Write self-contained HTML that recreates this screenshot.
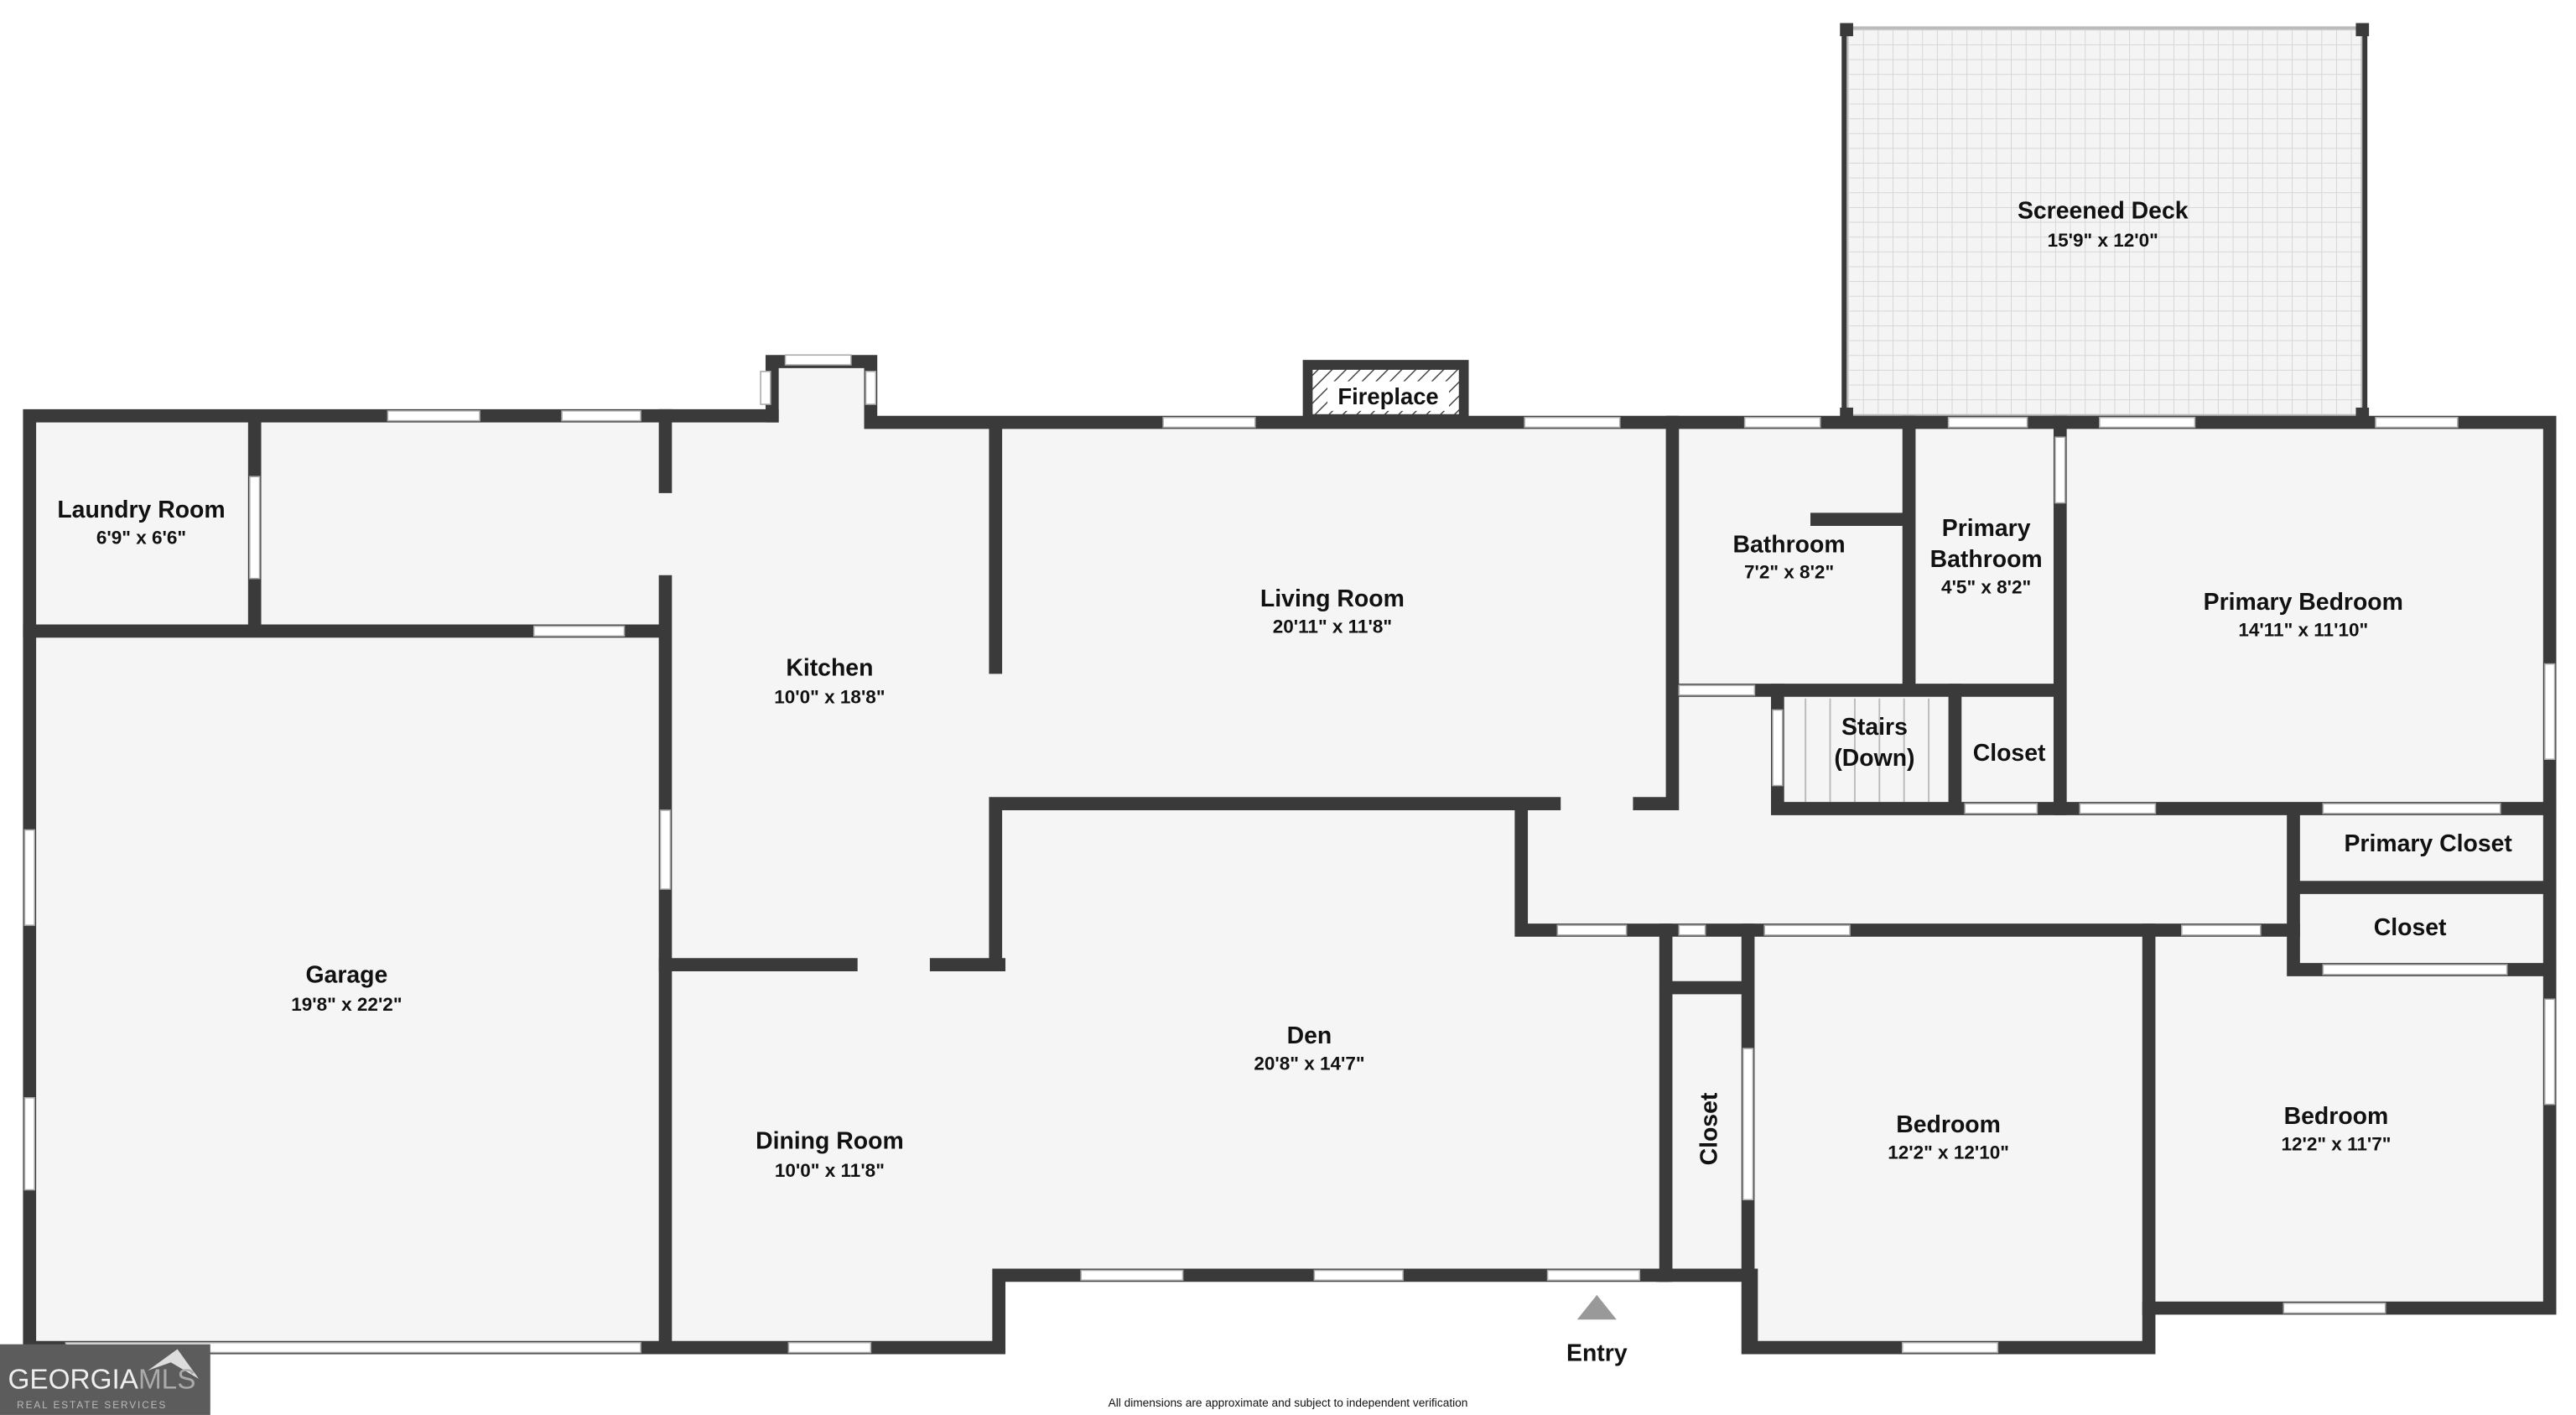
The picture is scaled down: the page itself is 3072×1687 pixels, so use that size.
<!DOCTYPE html>
<html><head><meta charset="utf-8"><style>
html,body{margin:0;padding:0;background:#fff;}
svg{display:block;}
text{font-family:"Liberation Sans",sans-serif;fill:#111;text-anchor:middle;}
.l{font-size:14.5px;font-weight:bold;}
.d{font-size:11.5px;font-weight:bold;}
</style></head><body>
<svg width="3072" height="1687" viewBox="0 0 1568 861" xmlns="http://www.w3.org/2000/svg">
<defs>
<pattern id="grid" width="9" height="9" patternUnits="userSpaceOnUse">
<rect width="9" height="9" fill="#f4f4f4"/>
<path d="M0 0H9M0 0V9" stroke="#d6d6d6" stroke-width="1"/>
</pattern>
<pattern id="hatch" width="6" height="6" patternUnits="userSpaceOnUse" patternTransform="rotate(45)">
<rect width="6" height="6" fill="#fff"/><line x1="0" y1="0" x2="0" y2="6" stroke="#444" stroke-width="1.5"/>
</pattern>
</defs>
<g fill="#f5f5f5">
<rect x="18" y="255" width="590" height="565"/>
<rect x="466" y="218" width="66" height="40"/>
<rect x="606" y="257" width="946" height="519"/>
<rect x="1064" y="566" width="244" height="254"/>
<rect x="1308" y="566" width="244" height="230"/>
</g>
<rect x="1124" y="17" width="314" height="236" fill="url(#grid)" stroke="#bbb" stroke-width="2"/>
<g fill="#3a3a3a">
<rect x="1120" y="14" width="8" height="8"/><rect x="1434" y="14" width="8" height="8"/>
<rect x="1120" y="248" width="8" height="8"/><rect x="1434" y="248" width="8" height="8"/>
<rect x="1121" y="20" width="3" height="232"/><rect x="1438" y="20" width="3" height="232"/>
</g>
<g stroke="#bbb" stroke-width="1">
<line x1="1099" y1="425" x2="1099" y2="488"/><line x1="1114" y1="425" x2="1114" y2="488"/>
<line x1="1129" y1="425" x2="1129" y2="488"/><line x1="1144" y1="425" x2="1144" y2="488"/>
<line x1="1159" y1="425" x2="1159" y2="488"/><line x1="1174" y1="425" x2="1174" y2="488"/>
</g>
<g stroke="#3a3a3a" stroke-width="8" stroke-linecap="square" fill="none">
<path d="M470 253H18V820H608V776H1012"/>
<path d="M470 253V220H530V257H1552V796H1308V820H1066V776H1012"/>
<path d="M155 257V382M18 384H404M405 253V296M405 354V820"/>
<path d="M405 587H518M570 587H608M606 260V406M606 587V489H946M926 489V566H1396"/>
<path d="M1018 257V489H998M1162 257V420M1018 420H1254M1106 316H1162M1254 257V492"/>
<path d="M1082 420V492H1552M1190 420V492M1396 492V590M1396 540H1552M1396 590H1552"/>
<path d="M1014 566V776M1064 566V820M1014 601H1064M1308 566V796"/>
</g>
<rect x="796" y="222" width="95" height="33" fill="url(#hatch)" stroke="#3a3a3a" stroke-width="6"/>
<rect x="808" y="232" width="74" height="18" fill="#fff"/>
<text class="l" x="845" y="246" style="font-size:14px">Fireplace</text>
<g fill="#fff" stroke="#aaa" stroke-width="0.8">
<rect x="236" y="250" width="56" height="6"/><rect x="342" y="250" width="48" height="6"/>
<rect x="478" y="216" width="40" height="6"/><rect x="463" y="226" width="6" height="20"/><rect x="527" y="226" width="6" height="20"/>
<rect x="708" y="254" width="56" height="6"/><rect x="928" y="254" width="58" height="6"/>
<rect x="1062" y="254" width="46" height="6"/><rect x="1186" y="254" width="48" height="6"/>
<rect x="1278" y="254" width="58" height="6"/><rect x="1446" y="254" width="50" height="6"/>
<rect x="152" y="290" width="6" height="62"/><rect x="325" y="381" width="55" height="6"/>
<rect x="402" y="493" width="6" height="48"/>
<rect x="15" y="505" width="6" height="58"/><rect x="15" y="668" width="6" height="56"/>
<rect x="40" y="817" width="350" height="6"/><rect x="480" y="817" width="50" height="6"/>
<rect x="658" y="773" width="62" height="6"/><rect x="800" y="773" width="54" height="6"/>
<rect x="942" y="773" width="56" height="6"/>
<rect x="1022" y="417" width="46" height="6"/><rect x="1079" y="432" width="6" height="46"/>
<rect x="1251" y="266" width="6" height="40"/>
<rect x="1196" y="489" width="44" height="6"/><rect x="1266" y="489" width="46" height="6"/>
<rect x="1414" y="489" width="108" height="6"/><rect x="1414" y="587" width="112" height="6"/>
<rect x="1549" y="404" width="6" height="58"/><rect x="1549" y="608" width="6" height="64"/>
<rect x="948" y="563" width="42" height="6"/><rect x="1022" y="563" width="16" height="6"/>
<rect x="1074" y="563" width="52" height="6"/><rect x="1328" y="563" width="48" height="6"/>
<rect x="1061" y="638" width="6" height="92"/>
<rect x="1390" y="793" width="62" height="6"/><rect x="1158" y="817" width="58" height="6"/>
</g>
<text class="l" x="86" y="315">Laundry Room</text><text class="d" x="86" y="331">6'9" x 6'6"</text>
<text class="l" x="505" y="411">Kitchen</text><text class="d" x="505" y="428">10'0" x 18'8"</text>
<text class="l" x="811" y="369">Living Room</text><text class="d" x="811" y="385">20'11" x 11'8"</text>
<text class="l" x="1280" y="133">Screened Deck</text><text class="d" x="1280" y="150">15'9" x 12'0"</text>
<text class="l" x="1089" y="336">Bathroom</text><text class="d" x="1089" y="352">7'2" x 8'2"</text>
<text class="l" x="1209" y="326">Primary</text><text class="l" x="1209" y="345">Bathroom</text><text class="d" x="1209" y="361">4'5" x 8'2"</text>
<text class="l" x="1402" y="371">Primary Bedroom</text><text class="d" x="1402" y="387">14'11" x 11'10"</text>
<text class="l" x="1141" y="447">Stairs</text><text class="l" x="1141" y="466">(Down)</text>
<text class="l" x="1223" y="463">Closet</text>
<text class="l" x="1478" y="518">Primary Closet</text>
<text class="l" x="1467" y="569">Closet</text>
<text class="l" x="211" y="598">Garage</text><text class="d" x="211" y="615">19'8" x 22'2"</text>
<text class="l" x="797" y="635">Den</text><text class="d" x="797" y="651">20'8" x 14'7"</text>
<text class="l" x="505" y="699">Dining Room</text><text class="d" x="505" y="716">10'0" x 11'8"</text>
<text class="l" x="1045" y="687" transform="rotate(-90 1045 687)">Closet</text>
<text class="l" x="1186" y="689">Bedroom</text><text class="d" x="1186" y="705">12'2" x 12'10"</text>
<text class="l" x="1422" y="684">Bedroom</text><text class="d" x="1422" y="700">12'2" x 11'7"</text>
<polygon points="960,803 984,803 972,788" fill="#999"/>
<text class="l" x="972" y="828">Entry</text>
<text x="784" y="856" style="font-size:7px">All dimensions are approximate and subject to independent verification</text>
<rect x="0" y="818" width="128" height="43" fill="#5c5c5c"/>
<polygon points="90,834 108,821 121,839 104,829" fill="#ddd"/>
<text x="62" y="845" style="font-size:17px;fill:#eee;">GEORGIA<tspan style="fill:#aaa">MLS</tspan></text>
<text x="56" y="857" style="font-size:6px;fill:#bbb;letter-spacing:1px">REAL ESTATE SERVICES</text>
</svg>
</body></html>
